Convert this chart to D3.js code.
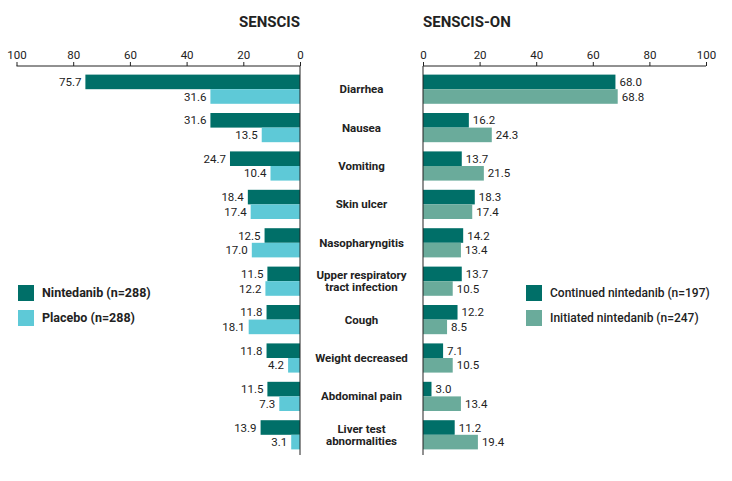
<!DOCTYPE html>
<html><head><meta charset="utf-8">
<script src="https://cdn.jsdelivr.net/npm/d3@7"></script>
<style>body{margin:0;background:#fff;} svg{display:block;font-family:Roboto,"Liberation Sans",sans-serif;}</style>
</head><body>
<svg id="c" width="732" height="481"></svg>
<script>
const categories = ["Diarrhea","Nausea","Vomiting","Skin ulcer","Nasopharyngitis","Upper respiratory|tract infection","Cough","Weight decreased","Abdominal pain","Liver test|abnormalities"];
const nintedanib = [75.7,31.6,24.7,18.4,12.5,11.5,11.8,11.8,11.5,13.9];
const placebo = [31.6,13.5,10.4,17.4,17.0,12.2,18.1,4.2,7.3,3.1];
const continued = [68.0,16.2,13.7,18.3,14.2,13.7,12.2,7.1,3.0,11.2];
const initiated = [68.8,24.3,21.5,17.4,13.4,10.5,8.5,10.5,13.4,19.4];
const ticks = [0,20,40,60,80,100];
const leftLegend = ["Nintedanib (n=288)","Placebo (n=288)"];
const rightLegend = ["Continued nintedanib (n=197)","Initiated nintedanib (n=247)"];

const C_DARK="#006f68", C_CYAN="#5ec9d7", C_SAGE="#6aab9b", TXT="#222";
const svg = d3.select("#c");
const xL = d3.scaleLinear().domain([0,100]).range([300,16.5]);
const xR = d3.scaleLinear().domain([0,100]).range([423,706]);
const y = d3.scaleBand().domain(d3.range(categories.length)).range([70,454]).paddingInner(0.24).paddingOuter(0.12);
const bh = y.bandwidth()/2;
const axisY = 66;

// axes
function axis(x){
  const g = svg.append("g").attr("transform",`translate(0,${axisY})`)
    .call(d3.axisTop(x).tickValues(ticks).tickSize(4).tickPadding(3).tickFormat(d3.format("d")));
  g.select(".domain").attr("stroke","#222").attr("d",`M${x(0)},0H${x(100)}`);
  g.selectAll(".tick line").attr("stroke","#222");
  g.selectAll("text").attr("fill",TXT).style("font-size","11.5px").style("font-family","Roboto,sans-serif");
}
axis(xL); axis(xR);

// titles
svg.append("text").attr("x",300).attr("y",27).attr("text-anchor","end").attr("font-weight","bold").attr("font-size","15px").attr("fill",TXT).text("SENSCIS");
svg.append("text").attr("x",423).attr("y",27).attr("text-anchor","start").attr("font-weight","bold").attr("font-size","15px").attr("fill",TXT).text("SENSCIS-ON");

function bars(data,x,off,color,side){
  svg.append("g").selectAll("rect").data(data).join("rect")
    .attr("x",d=>Math.min(x(0),x(d))).attr("width",d=>Math.abs(x(d)-x(0)))
    .attr("y",(d,i)=>y(i)+off).attr("height",bh).attr("fill",color);
  svg.append("g").selectAll("text").data(data).join("text")
    .attr("x",d=>x(d)+(side<0?-4:4)).attr("y",(d,i)=>y(i)+off+bh/2)
    .attr("dy","0.35em").attr("text-anchor",side<0?"end":"start")
    .attr("font-size","11.5px").attr("fill",TXT).text(d=>d.toFixed(1));
}
bars(nintedanib,xL,0,C_DARK,-1);
bars(placebo,xL,bh,C_CYAN,-1);
bars(continued,xR,0,C_DARK,1);
bars(initiated,xR,bh,C_SAGE,1);

// zero lines
svg.append("line").attr("x1",xL(0)).attr("x2",xL(0)).attr("y1",axisY).attr("y2",455).attr("stroke","#222");
svg.append("line").attr("x1",xR(0)).attr("x2",xR(0)).attr("y1",axisY).attr("y2",455).attr("stroke","#222");

// category labels
const cg = svg.append("g");
categories.forEach((c,i)=>{
  const lines = c.split("|");
  const cy = y(i)+y.bandwidth()/2;
  const t = cg.append("text").attr("x",361.5).attr("text-anchor","middle").attr("font-weight","bold").attr("font-size","11.5px").attr("fill",TXT);
  lines.forEach((l,j)=>{
    t.append("tspan").attr("x",361.5).attr("y",cy+(j-(lines.length-1)/2)*12.5).attr("dy","0.35em").text(l);
  });
});

// legends
function legend(x0,labels,colors,fs,fw){
  labels.forEach((l,i)=>{
    svg.append("rect").attr("x",x0).attr("y",285+i*25).attr("width",16).attr("height",16).attr("fill",colors[i]);
    svg.append("text").attr("x",x0+24).attr("y",293+i*25).attr("dy","0.35em").attr("font-weight",fw).attr("font-size",fs).attr("fill",TXT).text(l);
  });
}
legend(18,leftLegend,[C_DARK,C_CYAN],"12.5px","bold");
legend(526,rightLegend,[C_DARK,C_SAGE],"12px","500");
</script>
</body></html>
